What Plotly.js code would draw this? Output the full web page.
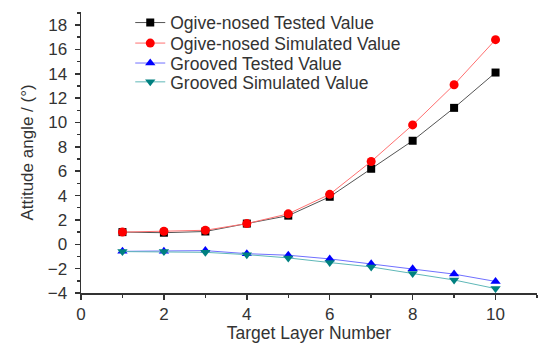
<!DOCTYPE html>
<html><head><meta charset="utf-8">
<script src="https://cdn.plot.ly/plotly-3.0.1.min.js"></script>
<style>html,body{margin:0;padding:0;background:#fff}</style>
</head><body><div id="chart" style="width:538px;height:343px"></div>
<script>
const layers = [1,2,3,4,5,6,7,8,9,10];
const ogiveTested = [1.0, 0.95, 1.05, 1.7, 2.35, 3.9, 6.2, 8.5, 11.2, 14.1];
const ogiveSimulated = [1.0, 1.07, 1.15, 1.7, 2.5, 4.1, 6.8, 9.8, 13.1, 16.8];
const groovedTested = [-0.58, -0.58, -0.52, -0.77, -0.9, -1.2, -1.6, -2.0, -2.45, -3.05];
const groovedSimulated = [-0.6, -0.6, -0.66, -0.85, -1.12, -1.5, -1.86, -2.4, -2.93, -3.64];
const names = ['Ogive-nosed Tested Value','Ogive-nosed Simulated Value','Grooved Tested Value','Grooved Simulated Value'];
const FONT = '"Liberation Sans", Arial, sans-serif';
const series = [
  {y: ogiveTested, line:'#555555', mk:'#000000', sym:'square', size:8},
  {y: ogiveSimulated, line:'#ff7070', mk:'#ff0000', sym:'circle', size:9},
  {y: groovedTested, line:'#7070ff', mk:'#0000ff', sym:'triangle-up', size:9},
  {y: groovedSimulated, line:'#5fb8b8', mk:'#008080', sym:'triangle-down', size:9}
];
const legendIds = ['legend','legend2','legend3','legend4'];
const legendRowsY = [0.962, 0.889, 0.818, 0.751];
const traces = series.map((s,i)=>({
  x: layers, y: s.y, name: names[i], type:'scatter', mode:'lines+markers',
  legend: legendIds[i],
  line:{color:s.line, width:1}, marker:{color:s.mk, symbol:s.sym, size:s.size}
}));
const axisCommon = {
  showline:true, linecolor:'#333', linewidth:1.5, ticks:'outside', ticklen:5, tickwidth:1.5, tickcolor:'#333',
  showgrid:false, zeroline:false, tickfont:{family:FONT, size:17, color:'#333'}
};
const layout = {
  width:538, height:343, margin:{l:81, r:1, t:12, b:50},
  paper_bgcolor:'#fff', plot_bgcolor:'#fff',
  font:{family:FONT, color:'#333'},
  showlegend:true,
  xaxis:Object.assign({}, axisCommon, {range:[0,11], dtick:2, tick0:0,
    minor:{dtick:1, ticks:'outside', ticklen:3, tickwidth:1.5, tickcolor:'#333'},
    title:{text:'Target Layer Number', font:{family:FONT, size:17.5, color:'#333'}, standoff:4}}),
  yaxis:Object.assign({}, axisCommon, {range:[-4,19.07], dtick:2, tick0:0, ticklabelstandoff:4,
    minor:{dtick:1, ticks:'outside', ticklen:3, tickwidth:1.5, tickcolor:'#333'},
    title:{text:'Attitude angle / (°)', font:{family:FONT, size:17, color:'#333'}, standoff:10}})
};
legendIds.forEach((id,i)=>{
  layout[id] = {x:0.108, y:legendRowsY[i], xanchor:'left', yanchor:'middle', bgcolor:'rgba(0,0,0,0)',
    font:{family:FONT, size:17.5, color:'#333'}, itemwidth:30, tracegroupgap:0};
});
Plotly.newPlot('chart', traces, layout, {displayModeBar:false, staticPlot:true});
</script></body></html>
